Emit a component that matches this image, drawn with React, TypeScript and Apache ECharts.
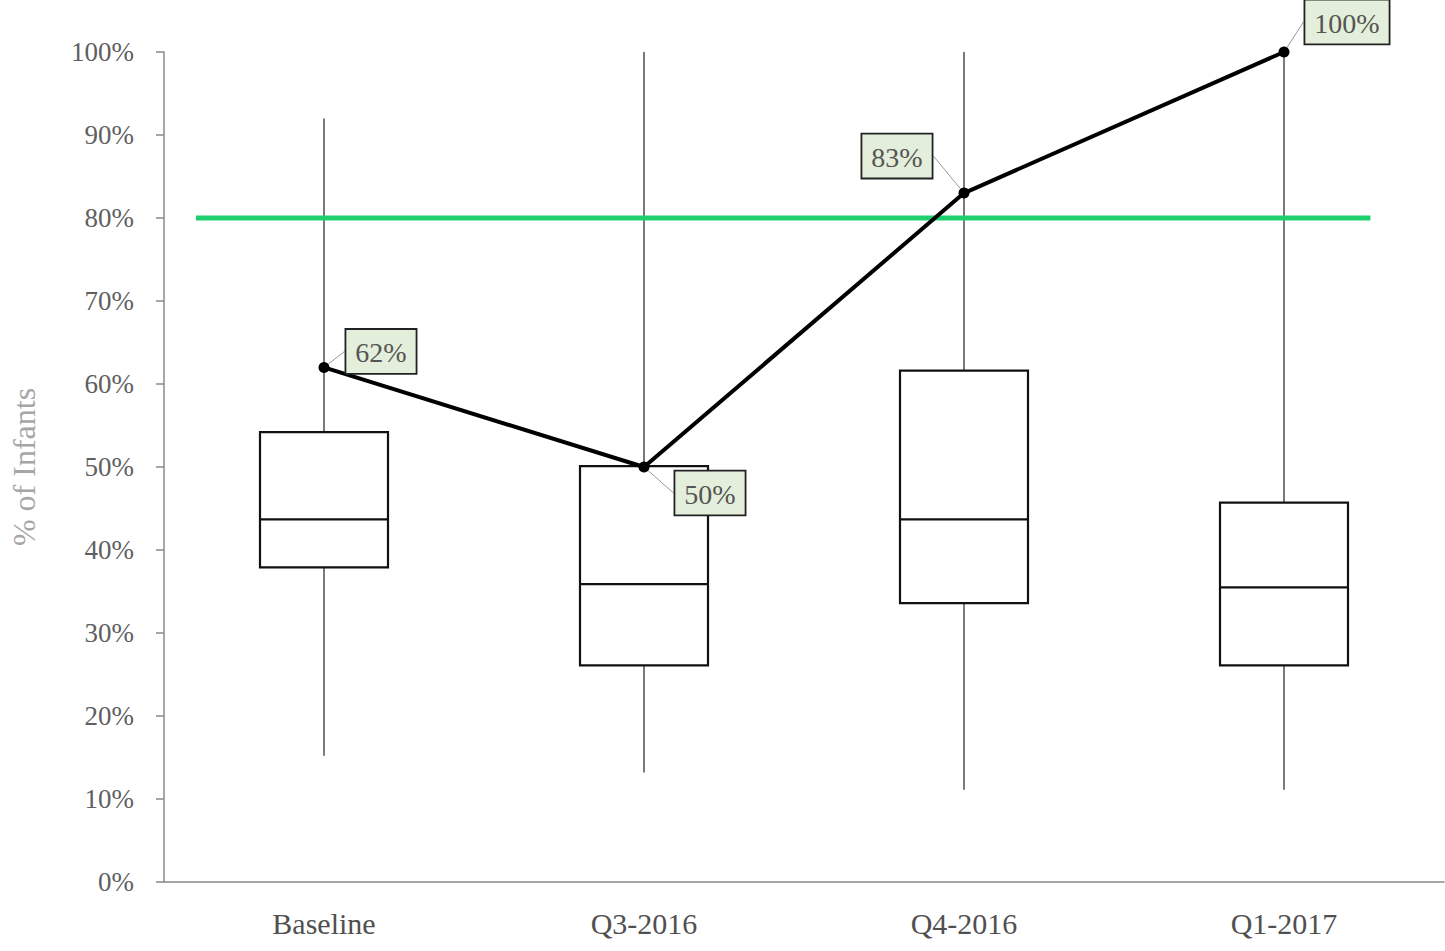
import React, { useEffect, useRef } from "react";
import * as echarts from "echarts";

const categories = ["Baseline", "Q3-2016", "Q4-2016", "Q1-2017"];
const minVals = [15.2, 13.2, 11.1, 11.1];
const q1Vals = [37.9, 26.1, 33.6, 26.1];
const medianVals = [43.7, 35.9, 43.7, 35.5];
const q3Vals = [54.2, 50.1, 61.6, 45.7];
const maxVals = [92, 100, 100, 100];
const lineVals = [62, 50, 83, 100];
const targetValue = 80;
const targetSpan = [0.1, 3.77];
const yTicks = [0, 10, 20, 30, 40, 50, 60, 70, 80, 90, 100];

const labelOffsets = [
  [57, 16],
  [66, 58],
  [-67, -5],
  [63, 2],
];

export default function App() {
  const ref = useRef<HTMLDivElement>(null);
  useEffect(() => {
    if (!ref.current) return;
    const chart = echarts.init(ref.current, null, { renderer: "svg" });
    const boxData = categories.map((c, i) => [
      i,
      minVals[i],
      q1Vals[i],
      medianVals[i],
      q3Vals[i],
      maxVals[i],
    ]);
    const font = "'Liberation Serif', 'DejaVu Serif', serif";
    chart.setOption({
      animation: false,
      grid: { left: 163, right: 1, top: 52, bottom: 69, containLabel: false },
      xAxis: [
        {
          type: "category",
          data: categories,
          axisLine: { lineStyle: { color: "#8a8a8a", width: 1.5 } },
          axisTick: { show: false },
          axisLabel: { color: "#505050", fontSize: 30, fontFamily: font, margin: 26 },
          splitLine: { show: false },
        },
        {
          type: "value",
          min: 0,
          max: 4,
          show: false,
          position: "bottom",
        },
      ],
      yAxis: {
        type: "value",
        min: 0,
        max: 100,
        interval: 10,
        name: "% of Infants",
        nameLocation: "middle",
        nameGap: 124,
        nameTextStyle: { color: "#a6a6a6", fontSize: 32, fontFamily: font },
        axisLine: { show: true, lineStyle: { color: "#8a8a8a", width: 1.5 } },
        axisTick: { show: true, length: 8, lineStyle: { color: "#8a8a8a", width: 1.5 } },
        axisLabel: {
          color: "#5f5f5f",
          fontSize: 27,
          fontFamily: font,
          margin: 30,
          formatter: (v: number) => (yTicks.includes(v) ? v + "%" : ""),
        },
        splitLine: { show: false },
      },
      series: [
        {
          type: "custom",
          xAxisIndex: 0,
          z: 1,
          data: boxData,
          renderItem: (params: any, api: any) => {
            const x = api.value(0);
            const pMin = api.coord([x, api.value(1)]);
            const pQ1 = api.coord([x, api.value(2)]);
            const pMed = api.coord([x, api.value(3)]);
            const pQ3 = api.coord([x, api.value(4)]);
            const pMax = api.coord([x, api.value(5)]);
            const bw = api.size([1, 0])[0] * 0.4;
            const cx = pMed[0];
            const wStyle = { stroke: "#333", lineWidth: 1.3 };
            return {
              type: "group",
              children: [
                {
                  type: "line",
                  shape: { x1: cx, y1: pMin[1], x2: cx, y2: pQ1[1] },
                  style: wStyle,
                },
                {
                  type: "line",
                  shape: { x1: cx, y1: pQ3[1], x2: cx, y2: pMax[1] },
                  style: wStyle,
                },
                {
                  type: "rect",
                  shape: { x: cx - bw / 2, y: pQ3[1], width: bw, height: pQ1[1] - pQ3[1] },
                  style: { fill: "#fff", stroke: "#111", lineWidth: 2.2 },
                },
                {
                  type: "line",
                  shape: { x1: cx - bw / 2, y1: pMed[1], x2: cx + bw / 2, y2: pMed[1] },
                  style: { stroke: "#111", lineWidth: 2.2 },
                },
              ],
            };
          },
        },
        {
          type: "line",
          xAxisIndex: 1,
          z: 3,
          data: [
            [targetSpan[0], targetValue],
            [targetSpan[1], targetValue],
          ],
          symbol: "none",
          lineStyle: { color: "#1ecf6e", width: 5 },
        },
        {
          type: "line",
          xAxisIndex: 0,
          z: 5,
          data: lineVals,
          symbol: "circle",
          symbolSize: 11,
          itemStyle: { color: "#000" },
          lineStyle: { color: "#000", width: 4 },
          label: {
            show: true,
            position: "top",
            formatter: (p: any) => p.value + "%",
            fontFamily: font,
            fontSize: 28,
            color: "#555",
            backgroundColor: "#e4efdb",
            borderColor: "#222",
            borderWidth: 1.8,
            padding: [9, 9, 6, 9],
          },
          labelLine: { show: true, lineStyle: { color: "#999", width: 1 } },
          labelLayout: (p: any) => ({
            dx: labelOffsets[p.dataIndex][0],
            dy: labelOffsets[p.dataIndex][1],
          }),
        },
      ],
    });
    return () => chart.dispose();
  }, []);
  return <div ref={ref} style={{ width: 1445, height: 951, position: "absolute", left: 0, top: 0 }} />;
}
